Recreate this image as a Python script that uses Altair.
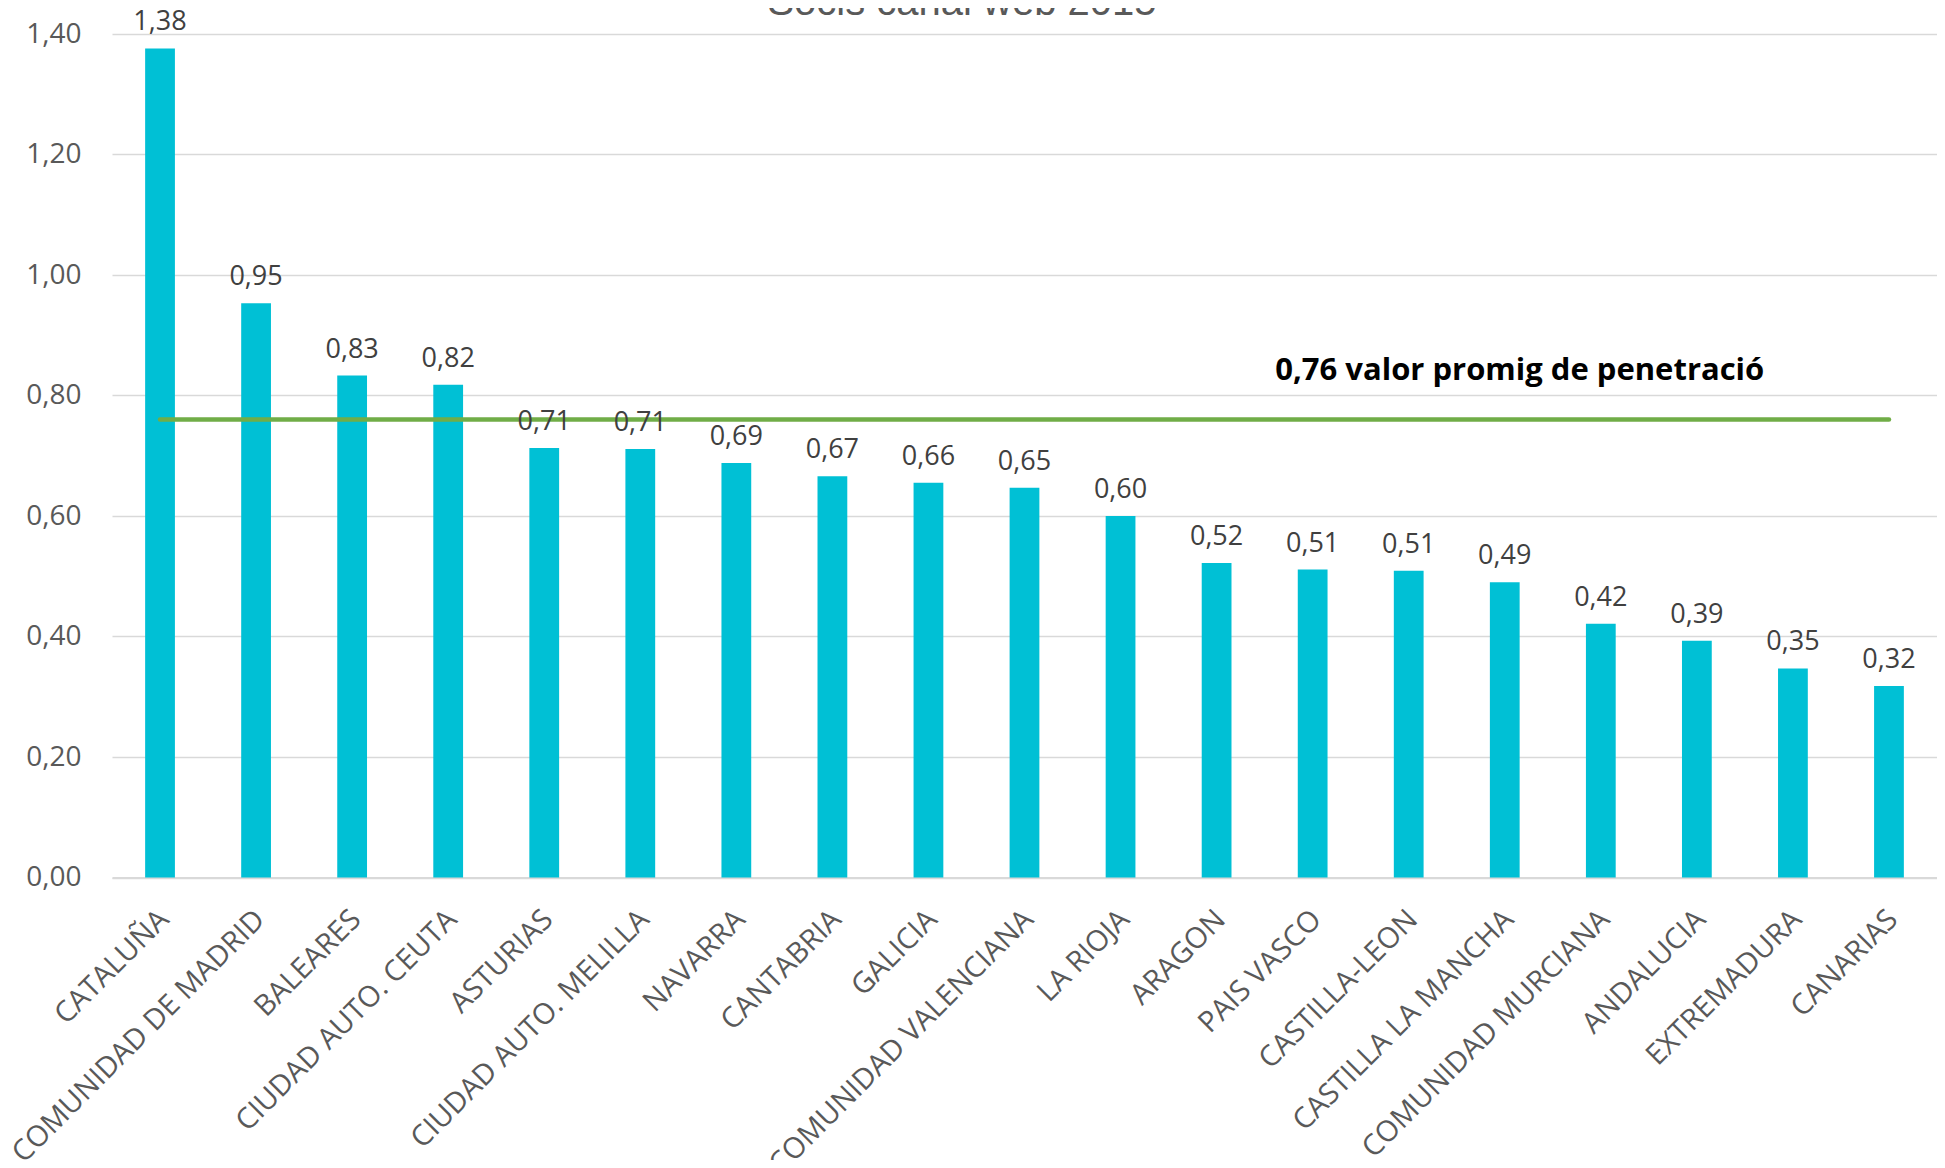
import altair as alt
import pandas as pd

title_text = ["Socis canal web 2015"]
regions = [
    "CATALUÑA", "COMUNIDAD DE MADRID", "BALEARES", "CIUDAD AUTO. CEUTA",
    "ASTURIAS", "CIUDAD AUTO. MELILLA", "NAVARRA", "CANTABRIA", "GALICIA",
    "COMUNIDAD VALENCIANA", "LA RIOJA", "ARAGON", "PAIS VASCO",
    "CASTILLA-LEON", "CASTILLA LA MANCHA", "COMUNIDAD MURCIANA",
    "ANDALUCIA", "EXTREMADURA", "CANARIAS",
]
values = [1.376, 0.953, 0.833, 0.818, 0.713, 0.711, 0.688, 0.666, 0.655, 0.647,
          0.600, 0.522, 0.511, 0.509, 0.490, 0.421, 0.393, 0.347, 0.318]
avg_value = 0.76
avg_label = ["0,76 valor promig de penetració"]
y_ticks = [0.0, 0.2, 0.4, 0.6, 0.8, 1.0, 1.2, 1.4]

df = pd.DataFrame({"region": regions, "value": values})
df_avg = pd.DataFrame({"region": [regions[0], regions[-1]], "value": [avg_value, avg_value]})
df_ann = pd.DataFrame({"region": ["CASTILLA LA MANCHA"], "value": [avg_value], "label": avg_label})
df_title = pd.DataFrame({"t": title_text})

FONT = "Open Sans"
GRAY = "#595959"

x_enc = alt.X(
    "region:N", sort=regions,
    scale=alt.Scale(paddingInner=0.69, paddingOuter=0.345),
    axis=alt.Axis(
        title=None, labelAngle=-45, labelAlign="right", labelBaseline="middle",
        labelFont=FONT, labelFontSize=29, labelColor=GRAY, ticks=False, tickSize=0,
        domainColor="#D9D9D9", domainWidth=2, labelPadding=37, labelOffset=4,
        grid=False, labelOverlap=False, labelLimit=0,
    ),
)
y_enc = alt.Y(
    "value:Q",
    scale=alt.Scale(domain=[0, 1.4], nice=False),
    axis=alt.Axis(
        title=None, values=y_ticks,
        labelExpr="replace(format(datum.value, '.2f'), '.', ',')",
        labelFont=FONT, labelFontSize=28, labelColor=GRAY,
        grid=True, gridColor="#D9D9D9", gridWidth=1.5,
        domain=False, ticks=False, labelPadding=31,
    ),
)

bars = alt.Chart(df).mark_bar(color="#00C0D5").encode(x=x_enc, y=y_enc)

labels = alt.Chart(df).transform_calculate(
    label="replace(format(datum.value, '.2f'), '.', ',')"
).mark_text(
    dy=-18, baseline="alphabetic", align="center", font=FONT, fontSize=27, color="#404040"
).encode(x=alt.X("region:N", sort=regions), y="value:Q", text="label:N")

avg_line = alt.Chart(df_avg).mark_line(
    color="#70AD47", strokeWidth=4.5, strokeCap="round"
).encode(x=alt.X("region:N", sort=regions), y="value:Q")

ann = alt.Chart(df_ann).mark_text(
    dx=15, dy=-40, baseline="alphabetic", align="center", font=FONT,
    fontSize=31, fontWeight="bold", color="#000000"
).encode(x=alt.X("region:N", sort=regions), y="value:Q", text="label:N")

title = alt.Chart(df_title).mark_text(
    baseline="alphabetic", align="center", font="Liberation Sans",
    fontSize=40, color=GRAY
).encode(x=alt.value(850), y=alt.value(-19), text="t:N")

chart = alt.layer(bars, avg_line, labels, ann, title).properties(
    width=1825, height=843.5,
    padding={"left": 104, "top": 26, "right": 0, "bottom": 282},
    autosize="none",
).configure_view(stroke=None)

chart.save("out.html", embed_options={"renderer": "svg", "actions": False})
